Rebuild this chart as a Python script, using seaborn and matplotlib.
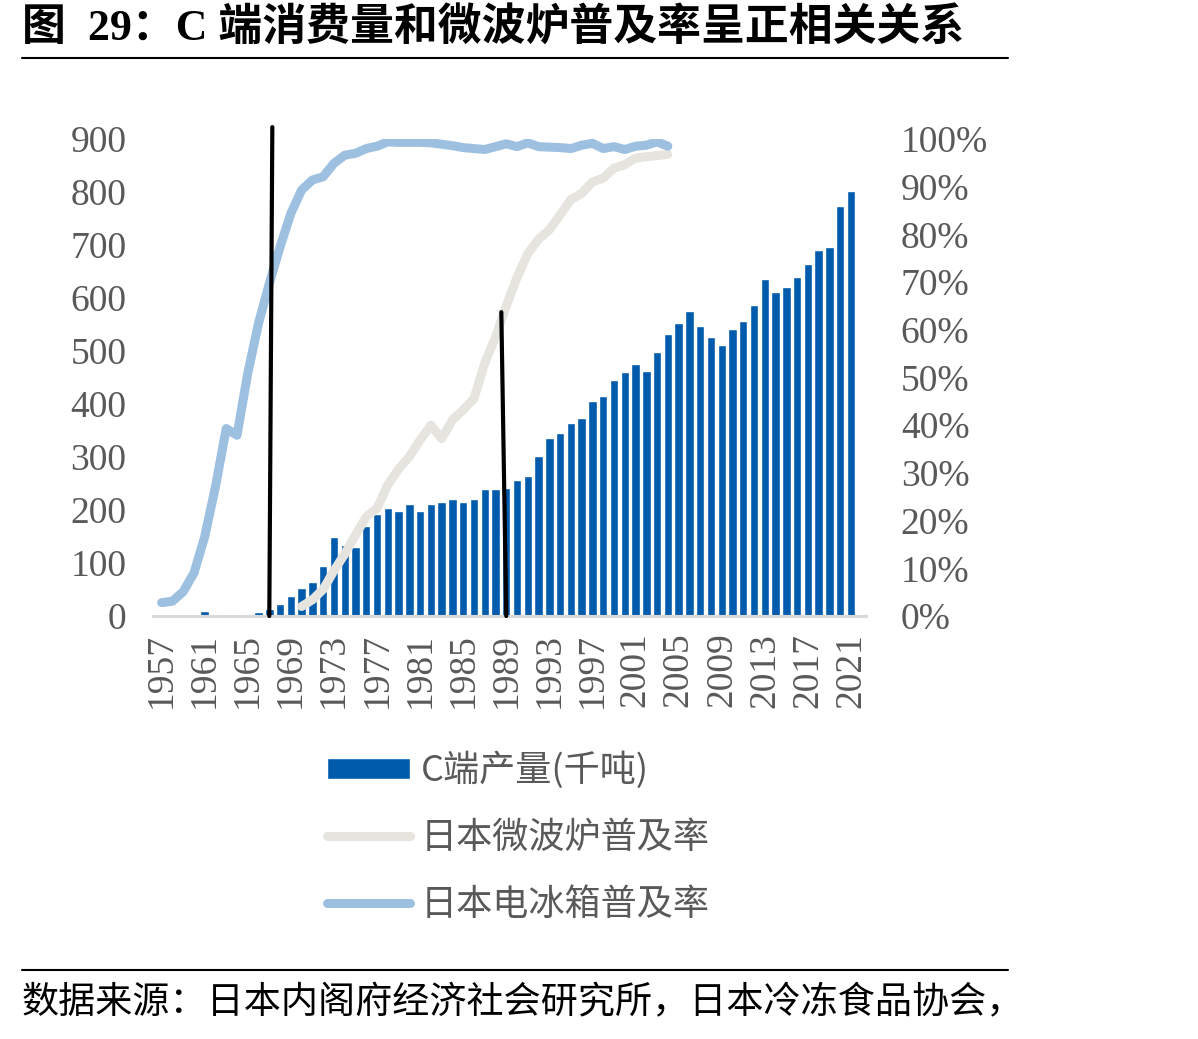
# plot.py

import numpy as np
import pandas as pd
import matplotlib
matplotlib.use("Agg")
import matplotlib.pyplot as plt
from matplotlib.lines import Line2D
import seaborn as sns

# Data
years = list(range(1957, 2022))
c_output = [0, 0, 0, 0, 9, 4, 4, 4, 4, 7,
            14, 22, 38, 53, 65, 95, 149, 134, 130, 170,
            192, 204, 198, 211, 198, 211, 216, 220, 215, 220,
            239, 239, 242, 257, 265, 302, 335, 346, 365, 374,
            405, 416, 446, 460, 476, 463, 498, 533, 552, 576,
            548, 527, 512, 542, 557, 586, 635, 612, 620, 640,
            665, 691, 696, 774, 802]

# fridge penetration 1957-2004 (%)
fridge_start = 1957
fridge = [2.8, 3.1, 5.1, 9.0, 16.6, 27.1, 39.3, 37.9, 50.9, 61.4,
          69.7, 77.4, 84.4, 89.3, 91.4, 92.1, 94.9, 96.6, 97.0, 98.0,
          98.5, 99.4, 99.3, 99.3, 99.3, 99.2, 98.9, 98.6, 98.2, 98.0,
          97.8, 98.4, 99.0, 98.4, 99.2, 98.4, 98.3, 98.2, 98.0, 98.7,
          99.1, 98.0, 98.4, 97.8, 98.5, 98.7, 99.4, 98.5]

# microwave penetration 1970-2004 (%)
micro_start = 1970
microwave = [2.0, 3.4, 5.6, 9.5, 13.0, 17.0, 20.8, 22.6, 27.5, 30.8,
             33.4, 36.9, 40.0, 37.2, 41.1, 43.2, 45.6, 53.0, 58.5, 65.0,
             71.0, 76.0, 79.0, 81.0, 84.1, 87.3, 88.6, 91.0, 91.8, 93.9,
             94.6, 96.0, 96.3, 96.5, 96.8]

# hand drawn marker lines (year, top in %, lean)
marker_years = [1967, 1989]
marker_tops = [102.5, 63.7]
marker_lean = [0.28, -0.46]

left_ticks = list(range(0, 1000, 100))
right_ticks = list(range(0, 110, 10))

bar_label = "C端产量(千吨)"
micro_label = "日本微波炉普及率"
fridge_label = "日本电冰箱普及率"
title = "图  29：C 端消费量和微波炉普及率呈正相关关系"
source = "数据来源：日本内阁府经济社会研究所，日本冷冻食品协会，"

# Style
sns.set_style("white")
plt.rcParams["font.family"] = ["Liberation Serif", "Noto Sans CJK SC", "DejaVu Sans"]

bar_color = "#005BAC"
fridge_color = "#9DBFE0"
micro_color = "#E6E4DF"
tick_color = "#595959"

df = pd.DataFrame({"year": years, "c_output": c_output})

fig = plt.figure(figsize=(11.98, 10.39), dpi=100)
ax = fig.add_axes([0.1277, 0.4071, 0.5952, 0.4591])

sns.barplot(data=df, x="year", y="c_output", color=bar_color, saturation=1,
            width=0.78, ax=ax, label=bar_label)

ax2 = ax.twinx()
fridge_x = np.arange(len(fridge)) + years.index(fridge_start)
micro_x = np.arange(len(microwave)) + years.index(micro_start)
sns.lineplot(x=micro_x, y=microwave, ax=ax2, color=micro_color, linewidth=6.5,
             label=micro_label, solid_capstyle="round")
sns.lineplot(x=fridge_x, y=fridge, ax=ax2, color=fridge_color, linewidth=6.5,
             label=fridge_label, solid_capstyle="round")

for yr, top, lean in zip(marker_years, marker_tops, marker_lean):
    xi = years.index(yr)
    ax2.plot([xi + lean, xi], [top, 0], color="black", linewidth=3, clip_on=False, zorder=5)

ax.set_ylim(0, 900)
ax2.set_ylim(0, 100)
ax.set_xlim(-0.8, 65.4)

ax.set_yticks(left_ticks)
ax.set_yticklabels([str(t) for t in left_ticks])
ax2.set_yticks(right_ticks)
ax2.set_yticklabels([f"{t}%" for t in right_ticks])
ax.set_xticks(range(0, len(years), 4))
ax.set_xticklabels([str(y) for y in years[::4]], rotation=90)

ax.tick_params(axis="y", length=0, labelsize=27, labelcolor=tick_color, pad=19)
ax.tick_params(axis="x", length=0, labelsize=27, labelcolor=tick_color, pad=12)
ax2.tick_params(axis="y", length=0, labelsize=27, labelcolor=tick_color, pad=25)

ax.set_xlabel("")
ax.set_ylabel("")
ax2.set_ylabel("")

for a in (ax, ax2):
    for side in ["top", "left", "right"]:
        a.spines[side].set_visible(False)
    a.spines["bottom"].set_color("#D9D9D9")
    a.spines["bottom"].set_linewidth(2.2)
    if a.get_legend() is not None:
        a.get_legend().remove()

# Legend
h1, l1 = ax.get_legend_handles_labels()
h2, l2 = ax2.get_legend_handles_labels()
fig.legend(h1 + h2, l1 + l2, loc="center", bbox_to_anchor=(0.4324, 0.1944),
           frameon=False, prop={"family": ["Noto Sans CJK SC"], "size": 26},
           labelcolor=tick_color, handlelength=2.3, handletextpad=0.3,
           labelspacing=0.85, handleheight=0.5)

# Title, rules and source
fig.text(22 / 1198, 1 - 28 / 1039, title, fontsize=31.6, fontweight="bold",
         va="center", ha="left", color="black")
fig.add_artist(Line2D([22 / 1198, 1008 / 1198], [1 - 58 / 1039] * 2, color="black", linewidth=1.5))
fig.add_artist(Line2D([22 / 1198, 1008 / 1198], [1 - 970 / 1039] * 2, color="black", linewidth=1.5))
fig.text(22 / 1198, 1 - 1003 / 1039, source, fontsize=26.7, va="center", ha="left",
         color="black", family=["Noto Sans CJK SC"])

fig.savefig("out.png", dpi=100)
